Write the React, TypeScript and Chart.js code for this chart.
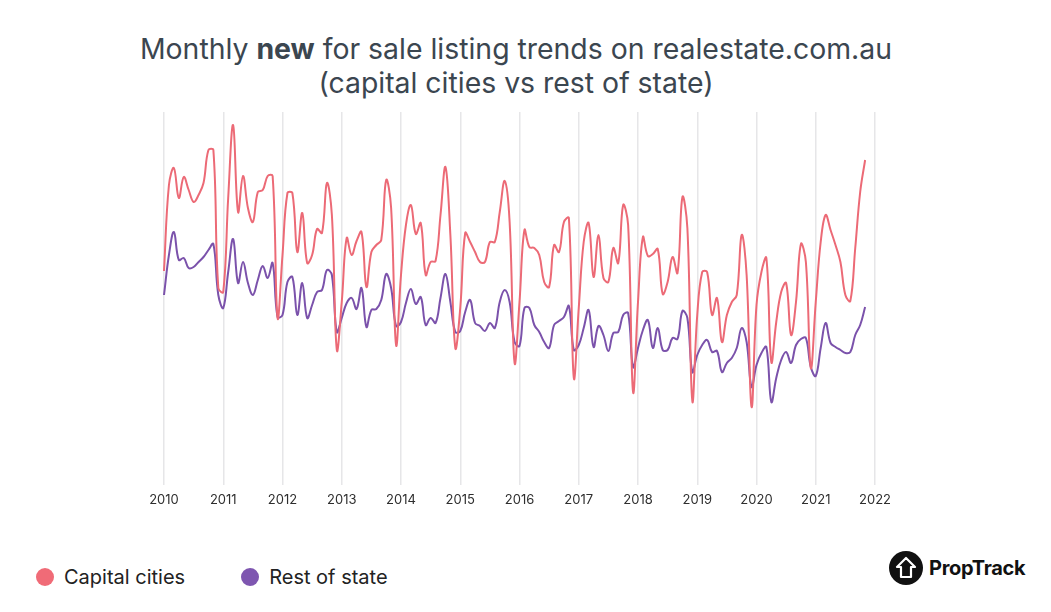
import React, { useEffect, useRef } from "react";
import { Chart, registerables } from "chart.js";

Chart.register(...registerables);

// Year ticks on the x axis (January of each year)
const years = [2010, 2011, 2012, 2013, 2014, 2015, 2016, 2017, 2018, 2019, 2020, 2021, 2022];
const monthNames = ["Jan", "Feb", "Mar", "Apr", "May", "Jun", "Jul", "Aug", "Sep", "Oct", "Nov", "Dec"];

// Monthly new listings index, Jan 2010 – Nov 2021
const capitalCities = [
  214, 300, 317, 287, 308, 295, 283, 290, 302, 335, 335, 197,
  193, 287, 360, 273, 309, 277, 263, 293, 295, 309, 309, 167,
  230, 292, 292, 233, 272, 222, 230, 256, 252, 302, 270, 135,
  183, 247, 230, 244, 253, 198, 233, 240, 245, 305, 277, 140,
  210, 260, 280, 251, 262, 210, 223, 224, 270, 318, 250, 137,
  177, 252, 243, 233, 223, 223, 243, 243, 273, 304, 263, 122,
  183, 255, 238, 237, 230, 203, 198, 240, 233, 263, 267, 107,
  177, 243, 262, 208, 250, 207, 203, 237, 222, 280, 260, 93,
  183, 248, 229, 231, 236, 191, 203, 228, 212, 288, 257, 84,
  170, 213, 213, 170, 187, 143, 170, 183, 190, 250, 210, 78,
  180, 213, 227, 123, 163, 193, 202, 150, 183, 241, 223, 117,
  183, 243, 270, 255, 240, 223, 190, 184, 237, 293, 325,
];

const restOfState = [
  190, 230, 253, 225, 227, 217, 218, 223, 228, 235, 241, 190,
  177, 213, 246, 202, 223, 202, 190, 205, 219, 207, 222, 168,
  170, 203, 208, 170, 202, 167, 180, 193, 195, 215, 210, 153,
  167, 182, 187, 176, 197, 158, 175, 176, 185, 211, 197, 159,
  163, 182, 196, 181, 188, 160, 167, 162, 187, 211, 183, 153,
  154, 173, 185, 162, 159, 154, 162, 157, 183, 195, 183, 143,
  139, 177, 177, 160, 153, 143, 137, 160, 164, 168, 179, 135,
  140, 157, 175, 138, 159, 150, 134, 152, 153, 170, 172, 118,
  137, 155, 165, 137, 157, 135, 135, 147, 146, 174, 167, 113,
  130, 140, 145, 133, 134, 113, 122, 127, 137, 157, 143, 98,
  120, 132, 138, 83, 107, 125, 133, 122, 140, 146, 147, 118,
  109, 137, 162, 142, 138, 135, 132, 133, 150, 160, 178,
];

const RED = "#ec6a76";
const PURPLE = "#7b52ab";
const FONT = "Inter, 'Open Sans', sans-serif";

const monthLabels: string[] = [];
years.forEach((y, i) => {
  if (i === years.length - 1) monthLabels.push(`${monthNames[0]} ${y}`);
  else monthNames.forEach((m) => monthLabels.push(`${m} ${y}`));
});

export default function App() {
  const canvasRef = useRef<HTMLCanvasElement | null>(null);

  useEffect(() => {
    if (!canvasRef.current) return;
    const chart = new Chart(canvasRef.current, {
      type: "line",
      data: {
        labels: monthLabels,
        datasets: [
          {
            label: "Capital cities",
            data: capitalCities,
            borderColor: RED,
            backgroundColor: RED,
            borderWidth: 2,
            pointRadius: 0,
            tension: 0.4,
            fill: false,
          },
          {
            label: "Rest of state",
            data: restOfState,
            borderColor: PURPLE,
            backgroundColor: PURPLE,
            borderWidth: 2,
            pointRadius: 0,
            tension: 0.4,
            fill: false,
          },
        ],
      },
      options: {
        responsive: false,
        maintainAspectRatio: false,
        animation: false,
        layout: { padding: { left: 164, right: 176, top: 112, bottom: 5 } },
        plugins: {
          legend: { display: false },
          title: { display: false },
          tooltip: { enabled: false },
        },
        scales: {
          x: {
            type: "category",
            offset: false,
            border: { display: false },
            afterFit: (axis: any) => {
              axis.height = 40;
            },
            grid: {
              drawTicks: false,
              lineWidth: 1.5,
              color: (ctx: any) => (ctx.index % 12 === 0 ? "#e6e6e8" : "rgba(0,0,0,0)"),
            },
            ticks: {
              autoSkip: false,
              maxRotation: 0,
              minRotation: 0,
              padding: 7,
              color: "#2e2e2e",
              font: { family: FONT, size: 13 },
              callback: (_v: any, i: number) => (i % 12 === 0 ? String(years[i / 12]) : ""),
            },
          },
          y: { display: false, min: 0, max: 373 },
        },
      },
    });
    return () => chart.destroy();
  }, []);

  return (
    <div style={{ position: "absolute", left: 0, top: 0, width: 1051, height: 612, background: "#fff", fontFamily: FONT, overflow: "hidden" }}>
      <div
        style={{
          position: "absolute",
          left: 0,
          top: 32,
          width: 1032,
          textAlign: "center",
          fontSize: 28.4,
          lineHeight: "34px",
          color: "#3b4650",
        }}
      >
        Monthly <b style={{ fontWeight: 700 }}>new</b> for sale listing trends on realestate.com.au
        <br />
        (capital cities vs rest of state)
      </div>
      <canvas ref={canvasRef} width={1051} height={530} style={{ position: "absolute", left: 0, top: 0 }} />
      <div style={{ position: "absolute", left: 36, top: 565, display: "flex", alignItems: "center", fontSize: 20, color: "#222" }}>
        <span style={{ width: 18, height: 18, borderRadius: 9, background: "#f06b77", display: "inline-block", marginRight: 10 }} />
        <span style={{ marginRight: 56 }}>Capital cities</span>
        <span style={{ width: 18, height: 18, borderRadius: 9, background: "#7e56b0", display: "inline-block", marginRight: 10 }} />
        <span>Rest of state</span>
      </div>
      <div style={{ position: "absolute", left: 889, top: 551, display: "flex", alignItems: "center" }}>
        <svg width={34} height={34} viewBox="0 0 34 34">
          <circle cx={17} cy={17} r={17} fill="#111" />
          <path d="M17 7 L26 16 L22 16 L22 26 L12 26 L12 16 L8 16 Z" fill="none" stroke="#fff" strokeWidth={2.2} strokeLinejoin="round" />
        </svg>
        <span style={{ marginLeft: 6, fontSize: 20, fontWeight: 700, color: "#111", letterSpacing: -0.3 }}>PropTrack</span>
      </div>
    </div>
  );
}
